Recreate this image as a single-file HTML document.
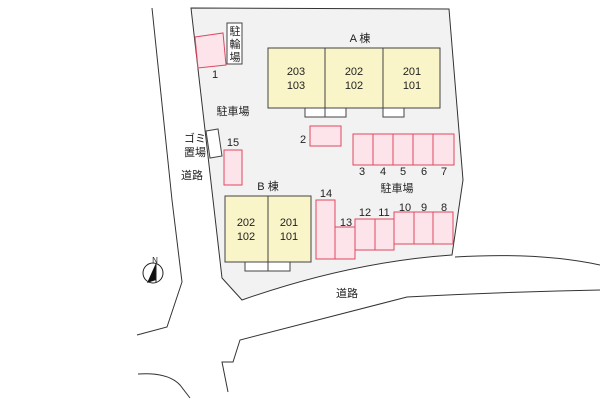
<!DOCTYPE html>
<html><head><meta charset="utf-8"><style>
body{margin:0;background:#fff}
text{font-family:"Liberation Sans","Noto Sans CJK JP",sans-serif;font-size:11px;fill:#222}
</style></head><body>
<svg width="600" height="400" viewBox="0 0 600 400">
<g fill="none" stroke="#333" stroke-width="1">
<path d="M191,8 L449,9 L463,180 L452,255 Q350,262 242,300 L222,278 Z" fill="#f2f2f2"/>
<path d="M152,8 L172,200 L182,282 L167,327 L137,335"/>
<path d="M455,257 Q540,252 600,265"/>
<path d="M600,290 Q500,292 407,297 L240,340 L233,362 L222,362 L228,392"/>
<path d="M138,374 Q168,372 180,385 L190,398"/>
</g>
<!-- Building A -->
<g stroke="#444" stroke-width="1">
<rect x="268" y="48" width="172" height="60" fill="#faf5c8"/>
<line x1="325" y1="48" x2="325" y2="108"/><line x1="383" y1="48" x2="383" y2="108"/>
<rect x="305" y="108" width="20" height="9" fill="#fff"/><rect x="325" y="108" width="21" height="9" fill="#fff"/>
<rect x="383" y="108" width="21" height="9" fill="#fff"/>
<rect x="225" y="196" width="86" height="66" fill="#faf5c8"/>
<line x1="268" y1="196" x2="268" y2="262"/>
<rect x="245" y="262" width="23" height="9" fill="#fff"/><rect x="268" y="262" width="22" height="9" fill="#fff"/>
<rect x="227" y="23" width="15" height="41" fill="#fff"/>
<polygon points="206,131 218,129 222,156 210,158" fill="#fff"/>
</g>
<g stroke="#e0485f" stroke-width="1" fill="#fde3ea">
<polygon points="195,37 223,33 226,65 198,68"/>
<rect x="224" y="150" width="18" height="35"/>
<rect x="310" y="126" width="31" height="20"/>
<rect x="353" y="134" width="20" height="31"/><rect x="373" y="134" width="20" height="31"/><rect x="393" y="134" width="20" height="31"/><rect x="413" y="134" width="20" height="31"/><rect x="433" y="134" width="21" height="31"/>
<rect x="316" y="200" width="19" height="59"/><rect x="335" y="227" width="20" height="32"/>
<rect x="355" y="219" width="20" height="31"/><rect x="375" y="219" width="19" height="31"/>
<rect x="394" y="212" width="20" height="32"/><rect x="414" y="212" width="19" height="32"/><rect x="433" y="212" width="20" height="32"/>
</g>
<g text-anchor="middle">
<text x="360" y="42">A 棟</text>
<text x="296" y="75">203</text><text x="296" y="89">103</text>
<text x="354" y="75">202</text><text x="354" y="89">102</text>
<text x="412" y="75">201</text><text x="412" y="89">101</text>
<text x="268" y="190">B 棟</text>
<text x="246" y="226">202</text><text x="246" y="240">102</text>
<text x="289" y="226">201</text><text x="289" y="240">101</text>
<text x="235" y="35">駐</text><text x="235" y="48">輪</text><text x="235" y="61">場</text>
<text x="215" y="78">1</text>
<text x="233" y="115">駐車場</text>
<text x="195" y="142">ゴミ</text><text x="195" y="156">置場</text>
<text x="233" y="146">15</text>
<text x="303" y="143">2</text>
<text x="192" y="179">道路</text>
<text x="362" y="175">3</text><text x="383" y="175">4</text><text x="403" y="175">5</text><text x="424" y="175">6</text><text x="444" y="175">7</text>
<text x="397" y="192">駐車場</text>
<text x="326" y="197">14</text><text x="346" y="226">13</text>
<text x="365" y="216">12</text><text x="384" y="216">11</text>
<text x="405" y="211">10</text><text x="424" y="211">9</text><text x="444" y="211">8</text>
<text x="347" y="297">道路</text>
<text x="155" y="263" style="font-size:8px">N</text>
</g>
<circle cx="153" cy="273" r="10" fill="#fff" stroke="#222"/>
<polygon points="156,263 147,283 156,280" fill="#111"/>
<line x1="156" y1="263" x2="156" y2="283" stroke="#222"/>
</svg>
</body></html>
